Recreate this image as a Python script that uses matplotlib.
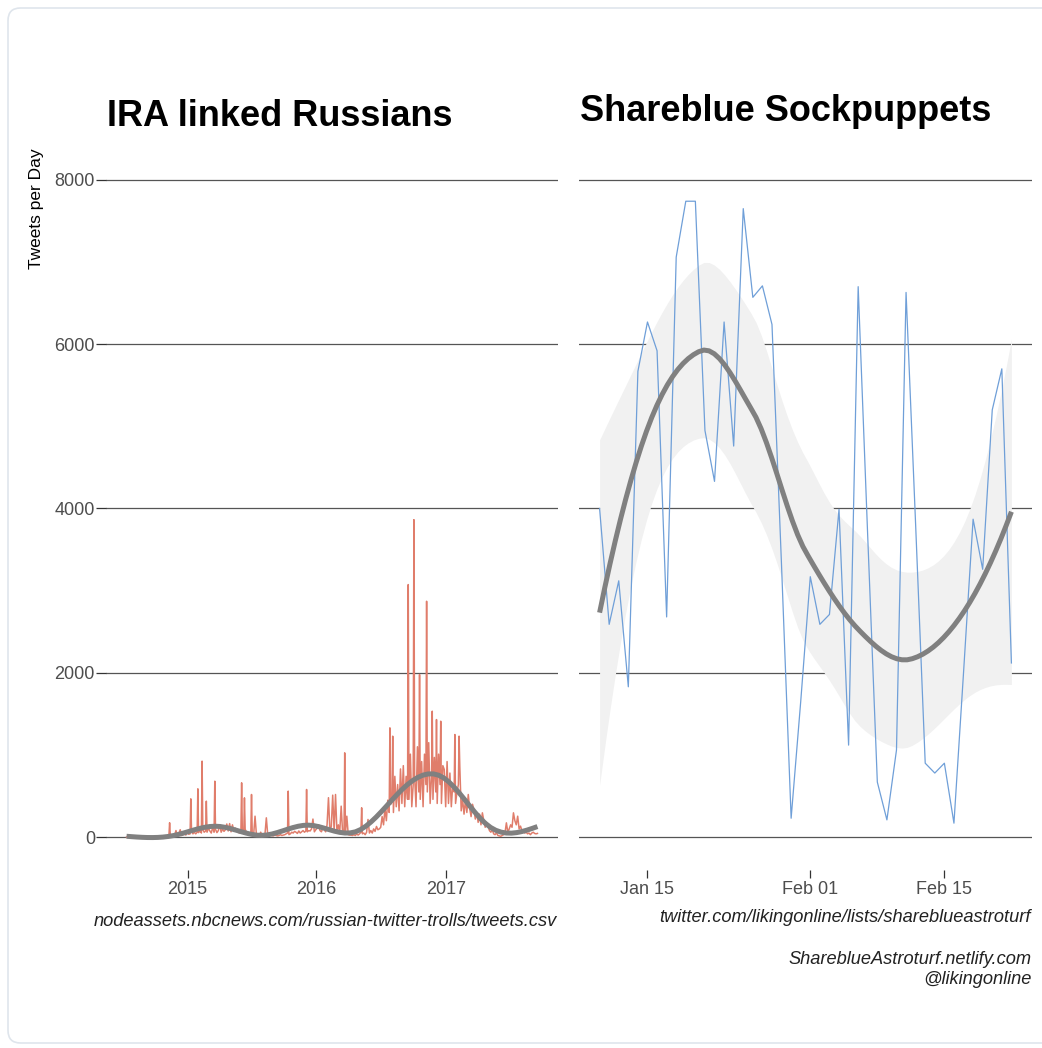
import numpy as np
import pandas as pd
import matplotlib
matplotlib.use("Agg")
import matplotlib.pyplot as plt
import matplotlib.dates as mdates
from matplotlib.patches import FancyBboxPatch

plt.rcParams['font.family'] = ['Liberation Sans', 'DejaVu Sans']

# ---------------- data ----------------
# IRA linked Russians: tweets per day, base level sampled every 4 days from 2014-07-12
ira_start = "2014-07-12"
ira_step_days = 4
ira_values = [
    0, 0, 0, 0, 0, 0, 0, 0, 0, 0,
    0, 0, 0, 0, 0, 0, 0, 0, 0, 0,
    0, 0, 0, 0, 0, 0, 0, 0, 0, 10,
    15, 20, 30, 10, 20, 80, 20, 40, 90, 20,
    30, 55, 25, 70, 35, 40, 85, 40, 60, 40,
    60, 55, 95, 50, 90, 60, 75, 60, 110, 75,
    50, 120, 60, 95, 55, 80, 150, 60, 100, 70,
    90, 160, 75, 165, 65, 150, 70, 110, 80, 60,
    50, 80, 70, 40, 95, 60, 35, 40, 30, 50,
    30, 255, 25, 40, 20, 60, 25, 20, 30, 235,
    25, 20, 30, 20, 15, 25, 20, 15, 20, 30,
    20, 25, 30, 40, 50, 30, 40, 60, 50, 70,
    60, 45, 75, 50, 65, 80, 60, 75, 65, 80,
    75, 100, 220, 65, 90, 110, 150, 80, 65, 110,
    90, 65, 150, 480, 80, 130, 511, 75, 519, 65,
    150, 65, 377, 60, 45, 40, 255, 30, 25, 25,
    20, 30, 20, 40, 25, 40, 60, 40, 50, 30,
    60, 215, 50, 80, 50, 100, 70, 130, 90, 100,
    120, 250, 150, 350, 200, 450, 300, 400, 500, 300,
    740, 370, 640, 320, 830, 410, 870, 370, 740, 460,
    460, 1010, 370, 640, 740, 370, 1100, 550, 460, 920,
    370, 1010, 640, 550, 1150, 410, 740, 460, 970, 550,
    410, 1010, 640, 410, 870, 823, 370, 920, 410, 780,
    370, 640, 550, 410, 550, 640, 864, 320, 460, 280,
    450, 300, 519, 350, 250, 400, 336, 220, 300, 180,
    280, 150, 296, 200, 120, 180, 134, 80, 60, 90,
    40, 30, 53, 20, 15, 10, 20, 30, 50, 174,
    60, 100, 150, 120, 296, 200, 150, 255, 100, 134,
    80, 70, 50, 60, 40, 50, 30, 50, 60, 45,
    40, 45,
]
# single-day spikes
ira_spike_dates = [
    "2014-11-11", "2015-01-10", "2015-01-30", "2015-02-11", "2015-02-23",
    "2015-03-19", "2015-06-03", "2015-06-11", "2015-07-01", "2015-10-13",
    "2015-12-04", "2016-03-21", "2016-05-08", "2016-07-27", "2016-08-04",
    "2016-09-17", "2016-10-03", "2016-10-19", "2016-11-08", "2016-11-24",
    "2016-12-06", "2016-12-18", "2017-01-27", "2017-02-08",
]
ira_spike_values = [
    175, 466, 588, 925, 438,
    681, 661, 478, 519, 560,
    580, 1026, 357, 1330, 1229,
    3074, 3864, 1979, 2871, 1533,
    1431, 1411, 1249, 1229,
]

# Shareblue Sockpuppets: tweets per day, daily from 2018-01-10
sb_start = "2018-01-10"
sb_values = [
    4000, 2590, 3120, 1830, 5670, 6270, 5920, 2680, 7060, 7740,
    7740, 4950, 4330, 6270, 4760, 7650, 6570, 6710, 6240, 3300,
    230, 1650, 3170, 2590, 2710, 3990, 1120, 6700, 3650, 670,
    210, 1060, 6630, 3800, 900, 780, 900, 170, 2000, 3870,
    3260, 5200, 5700, 2120,
]

left_title = "IRA linked Russians"
right_title = "Shareblue Sockpuppets"
y_label = "Tweets per Day"
y_ticks = [0, 2000, 4000, 6000, 8000]
left_xticks = ["2015-01-01", "2016-01-01", "2017-01-01"]
left_xticklabels = ["2015", "2016", "2017"]
right_xticks = ["2018-01-15", "2018-02-01", "2018-02-15"]
right_xticklabels = ["Jan 15", "Feb 01", "Feb 15"]
left_caption = "nodeassets.nbcnews.com/russian-twitter-trolls/tweets.csv"
right_caption = "twitter.com/likingonline/lists/shareblueastroturf"
credit_lines = ["ShareblueAstroturf.netlify.com", "@likingonline"]

# ---------------- smoothing helpers ----------------
def natural_spline_basis(x, knots):
    K = len(knots)
    def dk(k):
        return (np.clip(x - knots[k], 0, None) ** 3 - np.clip(x - knots[-1], 0, None) ** 3) / (knots[-1] - knots[k])
    cols = [np.ones_like(x), x]
    dlast = dk(K - 2)
    for k in range(K - 2):
        cols.append(dk(k) - dlast)
    return np.column_stack(cols)


def spline_smooth(x, y, w, xs, n_knots=10):
    lo, hi = x.min(), x.max()
    u = (x - lo) / (hi - lo)
    us = (xs - lo) / (hi - lo)
    knots = np.quantile(u, np.linspace(0, 1, n_knots))
    B = natural_spline_basis(u, knots)
    BtW = B.T * w
    coef = np.linalg.solve(BtW @ B + 1e-9 * np.eye(B.shape[1]), BtW @ y)
    return natural_spline_basis(us, knots) @ coef


def local_rows(x, x0, span=0.75):
    n = len(x)
    q = int(np.floor(n * span))
    d = np.abs(x - x0)
    h = np.sort(d)[q - 1]
    u = np.clip(d / h, 0, 1)
    w = (1 - u ** 3) ** 3
    X = np.column_stack([np.ones(n), x - x0, (x - x0) ** 2])
    XtW = X.T * w
    M = np.linalg.solve(XtW @ X, XtW)
    return M[0], M[1]


def kd_vertices(xv, fc):
    if len(xv) <= fc:
        return []
    m = np.median(xv)
    return kd_vertices(xv[xv <= m], fc) + [m] + kd_vertices(xv[xv > m], fc)


def loess_operator(x, xs, span=0.75, cell=0.2):
    fc = int(np.floor(len(x) * span * cell))
    verts = np.array([x.min()] + kd_vertices(np.sort(x), fc) + [x.max()])
    vals, slopes = zip(*[local_rows(x, v, span) for v in verts])
    vals, slopes = np.array(vals), np.array(slopes)
    rows = []
    for x0 in xs:
        k = np.clip(np.searchsorted(verts, x0, side="right") - 1, 0, len(verts) - 2)
        v0, v1 = verts[k], verts[k + 1]
        h = v1 - v0
        t = (x0 - v0) / h
        h00 = 2 * t ** 3 - 3 * t ** 2 + 1
        h10 = t ** 3 - 2 * t ** 2 + t
        h01 = -2 * t ** 3 + 3 * t ** 2
        h11 = t ** 3 - t ** 2
        rows.append(h00 * vals[k] + h10 * h * slopes[k] + h01 * vals[k + 1] + h11 * h * slopes[k + 1])
    return np.array(rows)

# ---------------- figure ----------------
fig = plt.figure(figsize=(10.42, 10.48), dpi=100)
W, H = 1042, 1048

border = FancyBboxPatch((8 / W, 1 - 1043 / H), 1.2, (1043 - 8) / H,
                        boxstyle="round,pad=0,rounding_size=0.012",
                        transform=fig.transFigure, facecolor="white",
                        edgecolor="#dfe5ec", linewidth=1.2, zorder=-10)
fig.patches.append(border)

ax_bottom = 1 - 870 / H
ax_height = (870 - 147) / H
axL = fig.add_axes([106 / W, ax_bottom, 452 / W, ax_height])
axR = fig.add_axes([579 / W, ax_bottom, 453 / W, ax_height])

grid_color = "#555555"
tick_color = "#4d4d4d"

# left panel
base_dates = pd.date_range(ira_start, periods=len(ira_values), freq=f"{ira_step_days}D")
spike_dates = pd.to_datetime(ira_spike_dates)
all_x = np.concatenate([mdates.date2num(base_dates.to_pydatetime()),
                        mdates.date2num(spike_dates.to_pydatetime())])
all_y = np.concatenate([np.array(ira_values, float), np.array(ira_spike_values, float)])
all_w = np.concatenate([np.full(len(ira_values), float(ira_step_days)),
                        np.ones(len(ira_spike_values))])
order = np.argsort(all_x)
ira_x, ira_y, ira_w = all_x[order], all_y[order], all_w[order]
axL.plot(ira_x, ira_y, color="#e07d6b", linewidth=1.1, zorder=2)
xsL = np.linspace(ira_x.min(), ira_x.max(), 80)
axL.plot(xsL, spline_smooth(ira_x, ira_y, ira_w, xsL), color="#808080", linewidth=3.6,
         solid_capstyle="butt", zorder=3)
spanL = ira_x.max() - ira_x.min()
axL.set_xlim(ira_x.min() - 0.05 * spanL, ira_x.max() + 0.05 * spanL)
axL.set_xticks(mdates.date2num(pd.to_datetime(left_xticks).to_pydatetime()))
axL.set_xticklabels(left_xticklabels)

# right panel
sb_dates = pd.date_range(sb_start, periods=len(sb_values), freq="D")
sb_y = np.array(sb_values, dtype=float)
sb_x = mdates.date2num(sb_dates.to_pydatetime())
xsR = np.linspace(sb_x.min(), sb_x.max(), 80)
L = loess_operator(sb_x, sb_x)
Ls = loess_operator(sb_x, xsR)
fit = Ls @ sb_y
res = sb_y - L @ sb_y
IL = np.eye(len(sb_x)) - L
R = IL.T @ IL
delta1 = np.trace(R)
sigma = np.sqrt(np.sum(res ** 2) / delta1)
se = sigma * np.sqrt(np.sum(Ls ** 2, axis=1))
tq = 2.03
axR.fill_between(xsR, fit - tq * se, fit + tq * se, color="#f1f1f1", linewidth=0, zorder=1)
axR.plot(sb_x, sb_y, color="#6f9fd8", linewidth=0.9, zorder=2)
axR.plot(xsR, fit, color="#808080", linewidth=3.6, solid_capstyle="butt", zorder=3)
spanR = sb_x.max() - sb_x.min()
axR.set_xlim(sb_x.min() - 0.05 * spanR, sb_x.max() + 0.05 * spanR)
axR.set_xticks(mdates.date2num(pd.to_datetime(right_xticks).to_pydatetime()))
axR.set_xticklabels(right_xticklabels)

for ax in (axL, axR):
    ax.set_ylim(-400, 8400)
    ax.set_yticks(y_ticks)
    ax.set_facecolor("none")
    for s in ax.spines.values():
        s.set_visible(False)
    for yv in y_ticks:
        ax.axhline(yv, color=grid_color, linewidth=0.9, zorder=0)
    ax.tick_params(axis="x", length=6, width=0.9, color="#333333",
                   labelcolor=tick_color, labelsize=13, pad=2)
    ax.tick_params(axis="y", length=7, width=0.9, color="#333333",
                   labelcolor=tick_color, labelsize=13, pad=1)

axR.tick_params(axis="y", length=0, labelleft=False)
axL.set_yticklabels([str(v) for v in y_ticks])

# titles
fig.text(107 / W, 1 - 126 / H, left_title, fontsize=26, fontweight="bold",
         ha="left", va="baseline", color="black")
fig.text(580 / W, 1 - 121 / H, right_title, fontsize=26, fontweight="bold",
         ha="left", va="baseline", color="black")

# y label
fig.text(36 / W, 1 - 148 / H, y_label, rotation=90, fontsize=12.5,
         ha="center", va="top", color="black")

# captions
cap_kw = dict(fontsize=13.15, style="italic", ha="right", va="center", color="#222222")
fig.text(557 / W, 1 - 921 / H, left_caption, **cap_kw)
fig.text(1031 / W, 1 - 918 / H, right_caption, **cap_kw)
fig.text(1032 / W, 1 - 960 / H, credit_lines[0], **cap_kw)
fig.text(1032 / W, 1 - 979 / H, credit_lines[1], **cap_kw)

fig.savefig("out.png", dpi=100, facecolor="white")
